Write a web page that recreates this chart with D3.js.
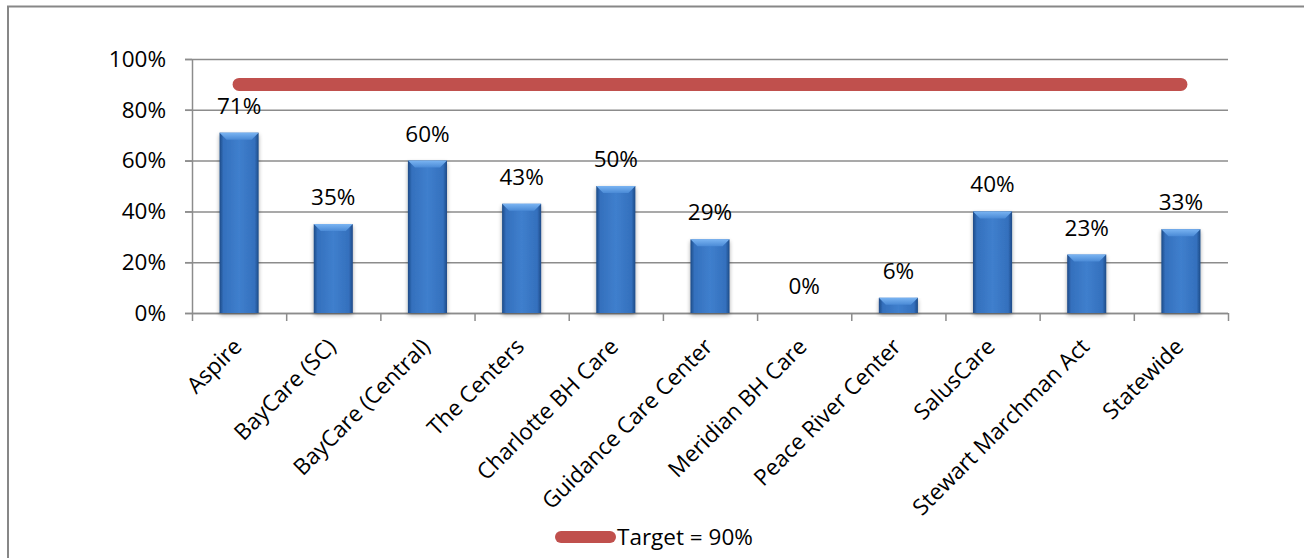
<!DOCTYPE html>
<html><head><meta charset="utf-8">
<script src="https://cdn.jsdelivr.net/npm/d3@7"></script>
<style>body{margin:0;background:#fff;} text{font-family:"Open Sans","Liberation Sans",sans-serif;fill:#000;}</style>
</head><body>
<svg id="c" width="1304" height="558"></svg>
<script>
const categories = ["Aspire","BayCare (SC)","BayCare (Central)","The Centers","Charlotte BH Care","Guidance Care Center","Meridian BH Care","Peace River Center","SalusCare","Stewart Marchman Act","Statewide"];
const values = [71,35,60,43,50,29,0,6,40,23,33];
const target = 90;
const yTicks = [0,20,40,60,80,100];
const legendLabel = "Target = 90%";

(function(){
const svg = d3.select("#c");
const pL=192, pR=1228, pT=59, pB=313, fs=22.5;
const x = d3.scaleBand().domain(categories).range([pL,pR]).paddingInner(0.585).paddingOuter(0.2925);
const xc = d3.scalePoint().domain(categories).range([pL,pR]).padding(0.5);
const y = d3.scaleLinear().domain([0,100]).range([pB,pT]);

svg.append("rect").attr("x",8).attr("y",6.5).attr("width",1400).attr("height",700)
  .attr("fill","none").attr("stroke","#878787").attr("stroke-width",2);

const defs = svg.append("defs");
const g1 = defs.append("linearGradient").attr("id","bg").attr("x1",0).attr("x2",1).attr("y1",0).attr("y2",0);
[[0,"#1d4a86"],[0.1,"#3470bd"],[0.5,"#3f7fcd"],[0.9,"#3470bd"],[1,"#1d4a86"]].forEach(s=>g1.append("stop").attr("offset",s[0]).attr("stop-color",s[1]));
const g2 = defs.append("linearGradient").attr("id","tg").attr("x1",0).attr("x2",0).attr("y1",0).attr("y2",1);
[[0,"#7ab4f2"],[1,"#4a8ad6"]].forEach(s=>g2.append("stop").attr("offset",s[0]).attr("stop-color",s[1]));
const fl = defs.append("filter").attr("id","sh").attr("x","-20%").attr("y","-10%").attr("width","140%").attr("height","130%");
fl.append("feGaussianBlur").attr("in","SourceAlpha").attr("stdDeviation",2).attr("result","b");
fl.append("feOffset").attr("in","b").attr("dy",2).attr("result","o");
fl.append("feComponentTransfer").attr("in","o").attr("result","o2").append("feFuncA").attr("type","linear").attr("slope",0.35);
const fm = fl.append("feMerge"); fm.append("feMergeNode").attr("in","o2"); fm.append("feMergeNode").attr("in","SourceGraphic");

svg.append("g").selectAll("line").data(yTicks).join("line")
  .attr("x1",pL-7).attr("x2",pR).attr("y1",d=>y(d)+0.5).attr("y2",d=>y(d)+0.5)
  .attr("stroke","#8c8c8c").attr("stroke-width",1.5);

const ya = svg.append("g").attr("transform",`translate(${pL},0)`)
  .call(d3.axisLeft(y).tickValues(yTicks).tickFormat(d=>d+"%").tickSize(7).tickPadding(19));
ya.select(".domain").attr("stroke","#8c8c8c").attr("stroke-width",1.5).attr("d",`M0.5,${pT}V${pB}`);
ya.selectAll(".tick line").attr("stroke","#8c8c8c").attr("stroke-width",1.5);
ya.selectAll(".tick text").attr("font-size",fs).attr("font-family","Open Sans, sans-serif").attr("fill","#000");

const xa = svg.append("g").attr("transform",`translate(0,${pB})`);
const bounds = categories.map((c,i)=>pL + i*(pR-pL)/categories.length).concat([pR]);
xa.append("line").attr("x1",pL).attr("x2",pR).attr("y1",0.5).attr("y2",0.5).attr("stroke","#8c8c8c").attr("stroke-width",1.5);
xa.selectAll("line.t").data(bounds).join("line").attr("class","t")
  .attr("x1",d=>d+0.5).attr("x2",d=>d+0.5).attr("y1",0).attr("y2",8).attr("stroke","#8c8c8c").attr("stroke-width",1.5);
xa.selectAll("text").data(categories).join("text")
  .attr("transform",d=>`translate(${xc(d)+4},${35}) rotate(-45)`)
  .attr("text-anchor","end").attr("font-size",fs).text(d=>d);

const bw = x.bandwidth();
const data = categories.map((c,i)=>({c,v:values[i]}));
const bars = svg.append("g").selectAll("g").data(data.filter(d=>d.v>0)).join("g");
bars.append("rect").attr("x",d=>x(d.c)).attr("y",d=>y(d.v)).attr("width",bw).attr("height",d=>y(0)-y(d.v))
  .attr("fill","url(#bg)").attr("filter","url(#sh)");
bars.append("path").attr("d",d=>{const x0=x(d.c),y0=y(d.v),h=Math.min(7,y(0)-y(d.v));
  return `M${x0},${y0}H${x0+bw}L${x0+bw-7},${y0+h}H${x0+7}Z`;}).attr("fill","url(#tg)");

svg.append("g").selectAll("text").data(data).join("text")
  .attr("x",d=>xc(d.c)).attr("y",d=>y(d.v)-19).attr("text-anchor","middle").attr("font-size",fs).text(d=>d.v+"%");

svg.append("line").attr("x1",xc(categories[0])).attr("x2",xc(categories[categories.length-1]))
  .attr("y1",y(target)).attr("y2",y(target)).attr("stroke","#c0504d").attr("stroke-width",13).attr("stroke-linecap","round");

svg.append("line").attr("x1",561).attr("x2",610).attr("y1",537).attr("y2",537)
  .attr("stroke","#c0504d").attr("stroke-width",12).attr("stroke-linecap","round");
svg.append("text").attr("x",617).attr("y",545).attr("font-size",fs).text(legendLabel);
})();
</script>
</body></html>
